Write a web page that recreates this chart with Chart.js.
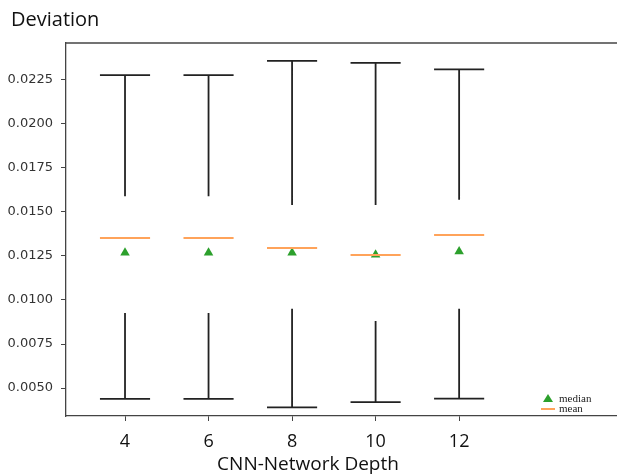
<!DOCTYPE html>
<html>
<head>
<meta charset="utf-8">
<script src="https://cdn.jsdelivr.net/npm/chart.js@4.4.0/dist/chart.umd.min.js"></script>
<style>
    html, body { margin: 0; padding: 0; background: #fff; }
    #wrap { position: relative; width: 617px; height: 475px; overflow: hidden; }
    #chart { position: absolute; left: 0; top: 0; }
    .label { position: absolute; font-family: "Open Sans", sans-serif; color: #111; white-space: nowrap; }
    #title { left: 11px; top: 5px; font-size: 20px; }
    #xlabel { left: 308px; top: 450px; font-size: 19px; transform: translateX(-50%); }
</style>
</head>
<body>
<div id="wrap">
    <canvas id="chart" width="617" height="475"></canvas>
    <div class="label" id="title">Deviation</div>
    <div class="label" id="xlabel">CNN-Network Depth</div>
</div>
<script>
// 各深さごとの値
const depths = [4, 6, 8, 10, 12];
const whiskerHigh = [0.02278, 0.02278, 0.02358, 0.02347, 0.0231];
const upperEnd = [0.0159, 0.0159, 0.0154, 0.0154, 0.0157];
const lowerEnd = [0.00926, 0.00926, 0.0095, 0.0088, 0.0095];
const whiskerLow = [0.00438, 0.00438, 0.0039, 0.0042, 0.0044];
const means = [0.01352, 0.01352, 0.01296, 0.01256, 0.01369];
const medians = [0.01268, 0.01268, 0.01268, 0.01257, 0.01275];
const yTicks = [0.0050, 0.0075, 0.0100, 0.0125, 0.0150, 0.0175, 0.0200, 0.0225];

const HALF = 0.6; // キャップ幅の半分（x単位）

// ひげの線分（null で区切る）
const whiskerPts = [];
depths.forEach((d, i) => {
    whiskerPts.push({ x: d, y: whiskerHigh[i] }, { x: d, y: upperEnd[i] }, { x: d, y: null });
    whiskerPts.push({ x: d - HALF, y: whiskerHigh[i] }, { x: d + HALF, y: whiskerHigh[i] }, { x: d, y: null });
    whiskerPts.push({ x: d, y: lowerEnd[i] }, { x: d, y: whiskerLow[i] }, { x: d, y: null });
    whiskerPts.push({ x: d - HALF, y: whiskerLow[i] }, { x: d + HALF, y: whiskerLow[i] }, { x: d, y: null });
});

const meanPts = [];
depths.forEach((d, i) => {
    meanPts.push({ x: d - HALF, y: means[i] }, { x: d + HALF, y: means[i] }, { x: d, y: null });
});

const medianPts = depths.map((d, i) => ({ x: d, y: medians[i] }));

// 上の枠線と凡例
const framePlugin = {
    id: 'frame',
    afterDraw(chart) {
        const { ctx, chartArea } = chart;
        ctx.save();
        ctx.strokeStyle = '#444';
        ctx.lineWidth = 1.3;
        ctx.beginPath();
        ctx.moveTo(chartArea.left, chartArea.top);
        ctx.lineTo(chart.width, chartArea.top);
        ctx.stroke();

        // 凡例
        ctx.fillStyle = '#2ca02c';
        ctx.beginPath();
        ctx.moveTo(548, 394);
        ctx.lineTo(553, 402);
        ctx.lineTo(543, 402);
        ctx.closePath();
        ctx.fill();
        ctx.strokeStyle = '#ffa35a';
        ctx.lineWidth = 2;
        ctx.beginPath();
        ctx.moveTo(541, 409);
        ctx.lineTo(555, 409);
        ctx.stroke();
        ctx.fillStyle = '#222';
        ctx.font = '11px "Liberation Serif", serif';
        ctx.textBaseline = 'middle';
        ctx.fillText('median', 559, 399);
        ctx.fillText('mean', 559, 409);
        ctx.restore();
    }
};

const ctx = document.getElementById('chart').getContext('2d');
new Chart(ctx, {
    type: 'scatter',
    data: {
        datasets: [
            {
                label: 'whiskers',
                data: whiskerPts,
                showLine: true,
                spanGaps: false,
                borderColor: '#222',
                borderWidth: 1.8,
                pointRadius: 0
            },
            {
                label: 'mean',
                data: meanPts,
                showLine: true,
                spanGaps: false,
                borderColor: '#ffa35a',
                borderWidth: 2,
                pointRadius: 0
            },
            {
                label: 'median',
                data: medianPts,
                pointStyle: 'triangle',
                pointRadius: 5.5,
                backgroundColor: '#2ca02c',
                borderColor: '#2ca02c',
                borderWidth: 0
            }
        ]
    },
    options: {
        responsive: false,
        animation: false,
        layout: { autoPadding: false, padding: { left: 0, right: 0, top: 43, bottom: 0 } },
        plugins: {
            legend: { display: false },
            tooltip: { enabled: false }
        },
        scales: {
            x: {
                type: 'linear',
                min: 2.587,
                max: 15.78,
                afterBuildTicks: scale => { scale.ticks = depths.map(v => ({ value: v })); },
                afterFit: scale => { scale.height = 59; },
                grid: { drawOnChartArea: false, drawTicks: true, tickLength: 5, color: '#444' },
                border: { color: '#444', width: 1.3 },
                ticks: {
                    padding: 10,
                    color: '#111',
                    font: { family: '"Open Sans", sans-serif', size: 18 }
                }
            },
            y: {
                min: 0.00341,
                max: 0.0246,
                afterBuildTicks: scale => { scale.ticks = yTicks.map(v => ({ value: v })); },
                afterFit: scale => { scale.width = 66; },
                grid: { drawOnChartArea: false, drawTicks: true, tickLength: 5, color: '#444' },
                border: { color: '#444', width: 1.3 },
                ticks: {
                    padding: 8,
                    color: '#333',
                    font: { family: '"DejaVu Sans", sans-serif', size: 13 },
                    callback: v => v.toFixed(4)
                }
            }
        }
    },
    plugins: [framePlugin]
});
</script>
</body>
</html>
